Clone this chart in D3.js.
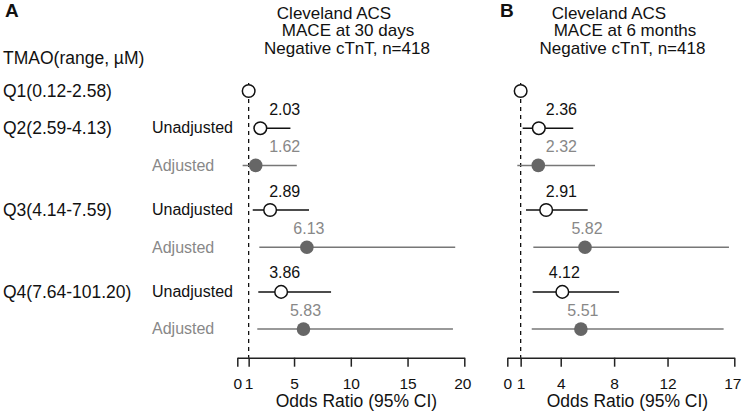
<!DOCTYPE html>
<html><head><meta charset="utf-8">
<script src="https://cdn.jsdelivr.net/npm/d3@7"></script>
<style>
body{margin:0;background:#fff;}
text{font-family:"Liberation Sans",Arial,Helvetica,sans-serif;}
</style></head>
<body>
<svg id="c" width="742" height="416"></svg>
<script>
// ---------- data ----------
const quartiles = ["Q1(0.12-2.58)", "Q2(2.59-4.13)", "Q3(4.14-7.59)", "Q4(7.64-101.20)"];
const models = ["Unadjusted", "Adjusted"];

// Panel A: MACE at 30 days
const titleA = ["Cleveland ACS", "MACE at 30 days", "Negative cTnT, n=418"];
const orA_unadj = [1, 2.03, 2.89, 3.86];
const loA_unadj = [null, 1.45, 1.36, 1.85];
const hiA_unadj = [null, 4.68, 6.32, 8.26];
const orA_adj = [null, 1.62, 6.13, 5.83];
const loA_adj = [null, 0.47, 1.94, 1.76];
const hiA_adj = [null, 5.24, 19.2, 19.0];
const ticksA = [0, 1, 5, 10, 15, 20];

// Panel B: MACE at 6 months
const titleB = ["Cleveland ACS", "MACE at 6 months", "Negative cTnT, n=418"];
const orB_unadj = [1, 2.36, 2.91, 4.12];
const loB_unadj = [null, 1.15, 1.40, 1.90];
const hiB_unadj = [null, 4.94, 6.02, 8.37];
const orB_adj = [null, 2.32, 5.82, 5.51];
const loB_adj = [null, 0.75, 1.95, 1.83];
const hiB_adj = [null, 6.57, 16.6, 16.2];
const ticksB = [0, 1, 4, 8, 12, 17];

// ---------- drawing ----------
const svg = d3.select("#c");
const FONT = '"Liberation Sans",Arial,Helvetica,sans-serif';
const cBlack = "#111", cGray = "#777", cFill = "#666", cText2 = "#888";

// vertical slots: Q1 single row, then groups of 2 rows
function slot(g, s) { return g === 0 ? 0 : 1 + (g - 1) * 2.2 + s; }
const y = d3.scaleLinear().domain([0, 1]).range([91, 128.2]);
const axisY = 357.7;

// left labels
svg.append("text").attr("x", 3).attr("y", 64).attr("font-size", 17.5).attr("fill", cBlack).text("TMAO(range, \u00B5M)");
quartiles.forEach((q, g) => {
  svg.append("text").attr("x", 3).attr("y", y(slot(g, 0))).attr("dy", "0.33em")
    .attr("font-size", 17.5).attr("fill", cBlack).text(q);
  if (g > 0) {
    models.forEach((m, s) => {
      svg.append("text").attr("x", 152).attr("y", y(slot(g, s))).attr("dy", "0.33em")
        .attr("font-size", 16).attr("fill", s === 0 ? cBlack : cText2).text(m);
    });
  }
});

svg.append("text").attr("x", 5).attr("y", 17).attr("font-size", 19).attr("font-weight", "bold").attr("fill", cBlack).text("A");
svg.append("text").attr("x", 500).attr("y", 17).attr("font-size", 19).attr("font-weight", "bold").attr("fill", cBlack).text("B");

function panel(cfg) {
  const x = d3.scaleLinear().domain([0, cfg.max]).range(cfg.range);
  const g = svg.append("g");

  // title
  cfg.title.forEach((t, i) => {
    g.append("text").attr("x", cfg.titleX[i]).attr("y", 18.5 + i * 17.5)
      .attr("text-anchor", "middle").attr("font-size", 17).attr("fill", cBlack).text(t);
  });

  // reference line at OR = 1
  g.append("line").attr("x1", x(1)).attr("x2", x(1)).attr("y1", 83).attr("y2", axisY)
    .attr("stroke", cBlack).attr("stroke-width", 1.3).attr("stroke-dasharray", "4,4");

  // axis
  const ax = g.append("g").attr("transform", `translate(0,${axisY})`)
    .call(d3.axisBottom(x).tickValues(cfg.ticks).tickSize(9).tickSizeOuter(0).tickFormat(d3.format("d")));
  ax.select(".domain").attr("stroke", "#222").attr("stroke-width", 1.5);
  ax.selectAll(".tick line").attr("stroke", "#222").attr("stroke-width", 1.5);
  ax.selectAll(".tick text").attr("font-family", FONT).attr("font-size", 15.5).attr("fill", cBlack).attr("dy", 0).attr("y", 31.5)
    .attr("x", (d, i, n) => i === n.length - 1 ? -2 : 0);
  g.append("text").attr("x", (x(1) + x(cfg.max)) / 2).attr("y", 407)
    .attr("text-anchor", "middle").attr("font-size", 17.5).attr("fill", cBlack).text("Odds Ratio (95% CI)");

  const rows = [];
  cfg.orU.forEach((v, i) => rows.push({ g: i, s: 0, or: v, lo: cfg.loU[i], hi: cfg.hiU[i] }));
  cfg.orA.forEach((v, i) => { if (v != null) rows.push({ g: i, s: 1, or: v, lo: cfg.loA[i], hi: cfg.hiA[i] }); });

  rows.forEach(r => {
    const yy = y(slot(r.g, r.s));
    const col = r.s === 0 ? cBlack : cGray;
    if (r.lo != null) {
      g.append("line").attr("x1", x(r.lo)).attr("x2", x(r.hi)).attr("y1", yy).attr("y2", yy)
        .attr("stroke", col).attr("stroke-width", 1.5);
    }
    if (r.s === 0) {
      g.append("circle").attr("cx", x(r.or)).attr("cy", yy).attr("r", 6.3)
        .attr("fill", "#fff").attr("stroke", cBlack).attr("stroke-width", 1.5);
    } else {
      g.append("circle").attr("cx", x(r.or)).attr("cy", yy).attr("r", 6.8).attr("fill", cFill);
    }
    if (r.g > 0) {
      const lx = Math.max(x(r.or), x(cfg.labelMin)) + 2;
      g.append("text").attr("x", lx).attr("y", yy - 13.5).attr("text-anchor", "middle")
        .attr("font-size", 16).attr("fill", r.s === 0 ? cBlack : cText2).text(r.or.toFixed(2));
    }
  });
}

panel({ max: 20, range: [237.3, 464.3], ticks: ticksA, title: titleA, titleX: [334, 348, 347],
  orU: orA_unadj, loU: loA_unadj, hiU: hiA_unadj, orA: orA_adj, loA: loA_adj, hiA: hiA_adj, labelMin: 4 });
panel({ max: 17, range: [507.3, 734.3], ticks: ticksB, title: titleB, titleX: [609, 625, 622.5],
  orU: orB_unadj, loU: loB_unadj, hiU: hiB_unadj, orA: orB_adj, loA: loB_adj, hiA: hiB_adj, labelMin: 3.9 });
</script>
</body></html>
